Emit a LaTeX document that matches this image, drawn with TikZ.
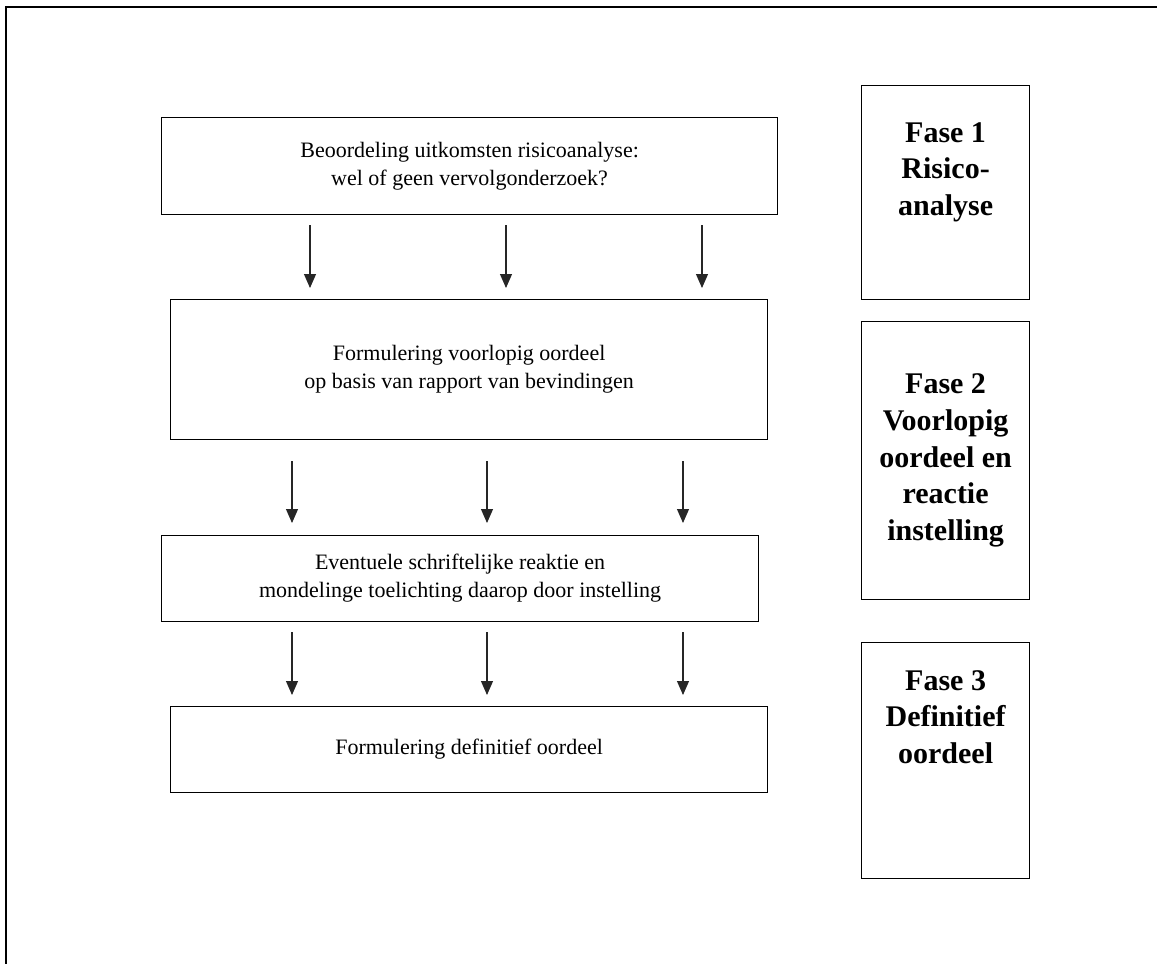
\documentclass[tikz,border=0pt]{standalone}
\usepackage{fontspec}
\setmainfont{Liberation Serif}
\usetikzlibrary{positioning,arrows.meta}

\begin{document}
\begin{tikzpicture}[
      x=1pt, y=-1pt,
      stepbox/.style={
        draw,
        line width=1.2pt,
        anchor=north west,
        inner sep=0pt,
        align=center,
        font=\fontsize{22}{28}\selectfont
      },
      fasebox/.style={
        draw,
        line width=1.2pt,
        anchor=north west,
        inner sep=0pt,
        minimum width=168pt
      },
      fasetext/.style={
        inner sep=0pt,
        align=center,
        font=\fontsize{30}{36.7}\selectfont\bfseries
      },
      arr/.style={
        -{Triangle[length=14pt,width=12pt]},
        line width=1.1pt,
        draw=black!85
      }
    ]
    \useasboundingbox (0,0) rectangle (1157,964);
    %% Frame
    \draw[line width=2.5pt] (1157,7) -- (6,7) -- (6,964);

    %% Steps
    \node[stepbox, minimum width=616pt, minimum height=97pt] (step-1) at (161,117)
      {Beoordeling uitkomsten risicoanalyse:\\wel of geen vervolgonderzoek?};
    \node[stepbox, minimum width=597pt, minimum height=140pt] (step-2) at (170,299)
      {Formulering voorlopig oordeel\\op basis van rapport van bevindingen};
    \node[stepbox, minimum width=597pt, minimum height=86pt] (step-3) at (161,535)
      {Eventuele schriftelijke reaktie en\\mondelinge toelichting daarop door instelling};
    \node[stepbox, minimum width=597pt, minimum height=86pt] (step-4) at (170,706)
      {Formulering definitief oordeel};

    %% Arrow columns
    \coordinate (col-a1) at (310,0);
    \coordinate (col-a2) at (506,0);
    \coordinate (col-a3) at (702,0);
    \coordinate (col-b1) at (292,0);
    \coordinate (col-b2) at (487,0);
    \coordinate (col-b3) at (683,0);

    %% Arrows
    \foreach \c in {1,2,3} {
      \draw[arr, shorten <=10pt, shorten >=11pt]
        (step-1.south -| col-a\c) -- (step-2.north -| col-a\c);
      \draw[arr, shorten <=21pt, shorten >=12pt]
        (step-2.south -| col-b\c) -- (step-3.north -| col-b\c);
      \draw[arr, shorten <=10pt, shorten >=11pt]
        (step-3.south -| col-b\c) -- (step-4.north -| col-b\c);
    }

    %% Phases
    \node[fasebox, minimum height=214pt] (fase-1) at (861,85) {};
    \node[fasetext, below=37pt of fase-1.north] (fase-1-text)
      {Fase 1\\Risico-\\analyse};
    \node[fasebox, minimum height=278pt] (fase-2) at (861,321) {};
    \node[fasetext] (fase-2-text) at (fase-2.center)
      {Fase 2\\Voorlopig\\oordeel en\\reactie\\instelling};
    \node[fasebox, minimum height=236pt] (fase-3) at (861,642) {};
    \node[fasetext, below=28pt of fase-3.north] (fase-3-text)
      {Fase 3\\Definitief\\oordeel};
  \end{tikzpicture}
\end{document}
